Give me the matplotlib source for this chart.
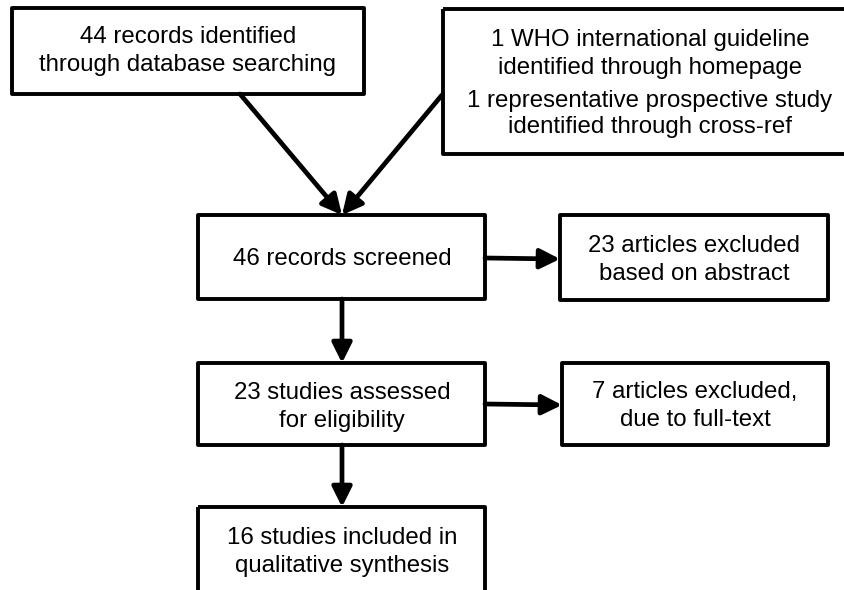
import matplotlib.pyplot as plt
from matplotlib.patches import Rectangle, FancyArrowPatch

plt.rcParams['font.family'] = ['Liberation Sans', 'DejaVu Sans']

# box texts
box_texts = [
    "44 records identified\nthrough database searching",
    "1 WHO international guideline\nidentified through homepage",
    "46 records screened",
    "23 articles excluded\nbased on abstract",
    "23 studies assessed\nfor eligibility",
    "7 articles excluded,\ndue to full-text",
    "16 studies included in\nqualitative synthesis",
]
extra_text = "1 representative prospective study\nidentified through cross-ref"

# layout in pixels: x0, y0, x1, y1 (y downward)
boxes = [
    (12, 8, 364, 94),
    (443, 9, 860, 154),
    (198, 215, 485, 299),
    (560, 215, 828, 300),
    (198, 363, 485, 445),
    (562, 363, 828, 445),
    (198, 507, 485, 610),
]
text_pos = [(188, 51), (650, 54), (342, 259), (694, 260),
            (342, 407), (695, 406), (342, 552)]
extra_pos = (650, 114)

# arrows: start -> end
arrows = [
    ((240, 94), (342, 215)),
    ((442, 95), (342, 215)),
    ((342, 299), (342, 363)),
    ((485, 258), (560, 259)),
    ((342, 445), (342, 507)),
    ((485, 404), (562, 405)),
]

fig = plt.figure(figsize=(8.45, 5.9), dpi=100)
ax = fig.add_axes([0, 0, 1, 1])
ax.set_xlim(0, 845)
ax.set_ylim(590, 0)
ax.axis('off')

for (x0, y0, x1, y1), txt, (tx, ty) in zip(boxes, box_texts, text_pos):
    ax.add_patch(Rectangle((x0, y0), x1 - x0, y1 - y0, fill=False,
                           edgecolor='black', linewidth=2.8, joinstyle='round'))
    ax.text(tx, ty, txt, ha='center', va='center', fontsize=17.3, linespacing=1.3)

ax.text(extra_pos[0], extra_pos[1], extra_text, ha='center', va='center',
        fontsize=17.3, linespacing=1.2)

for (s, e) in arrows:
    ax.add_patch(FancyArrowPatch(s, e, arrowstyle='-|>,head_length=0.6,head_width=0.3',
                                 mutation_scale=20, linewidth=3.4, color='black',
                                 shrinkA=0, shrinkB=0))

fig.savefig('out.png', dpi=100)
